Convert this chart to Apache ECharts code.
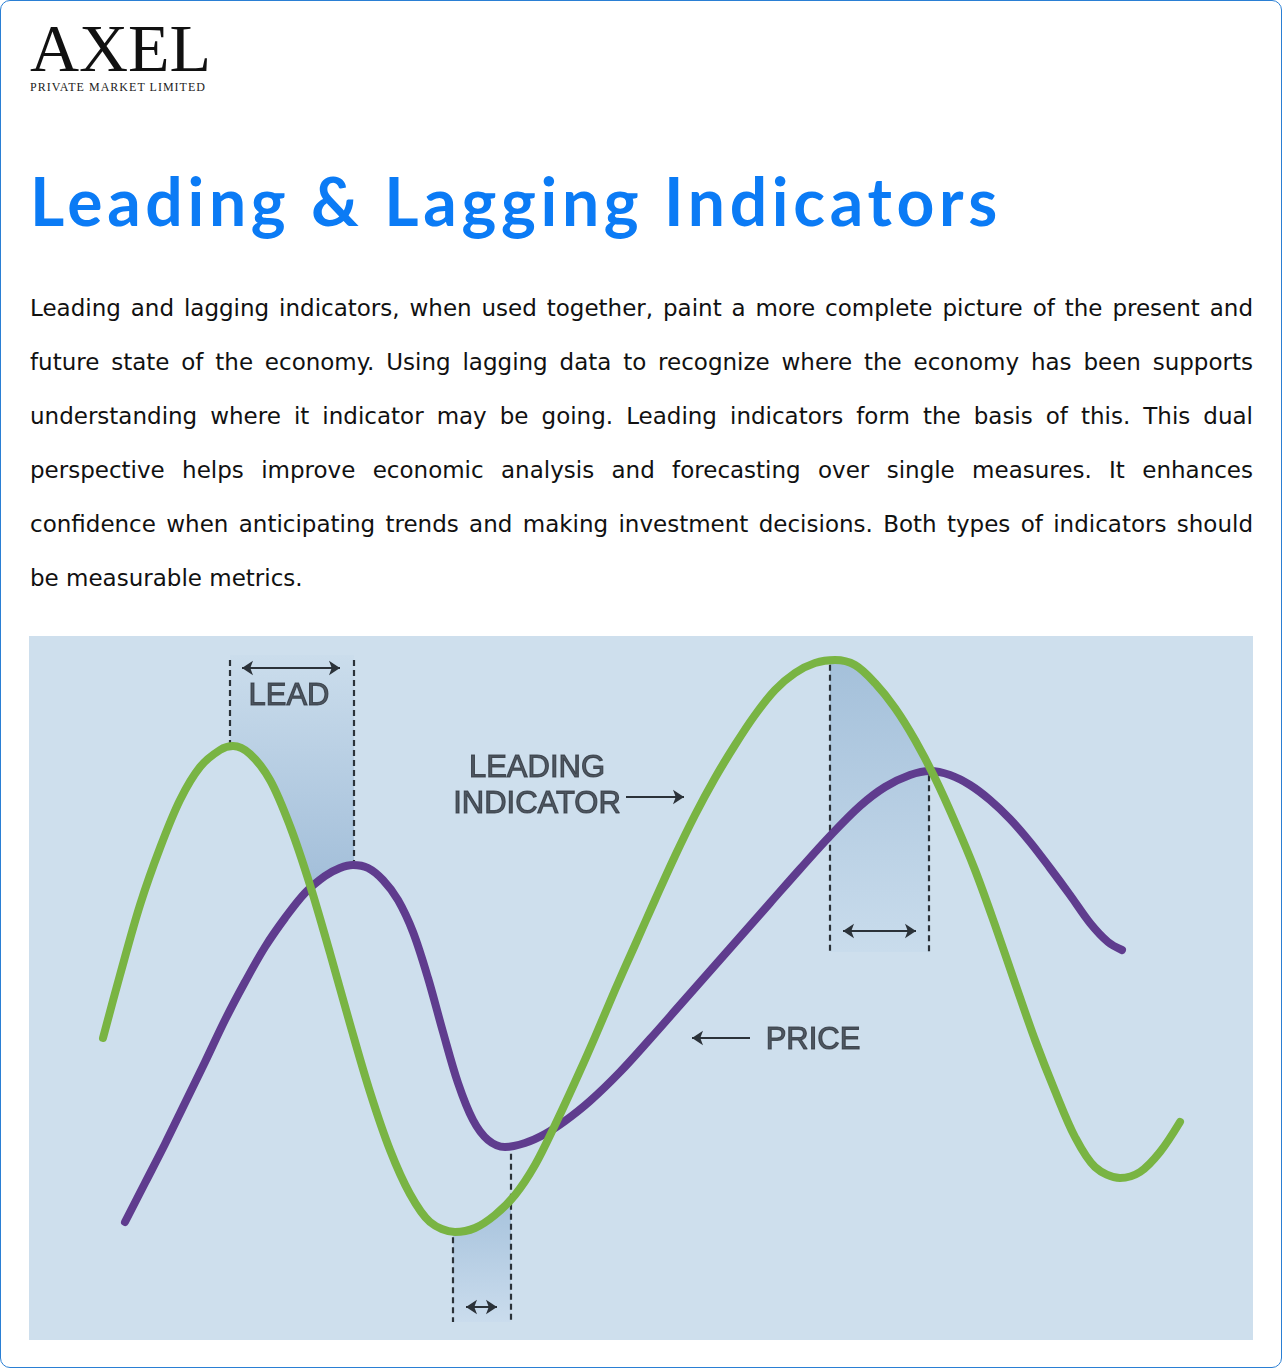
<!DOCTYPE html>
<html><head><meta charset="utf-8">
<script src="https://cdn.jsdelivr.net/npm/echarts@6/dist/echarts.min.js"></script>
<style>
html,body{margin:0;padding:0;background:#fff;}
#page{position:relative;width:1282px;height:1368px;overflow:hidden;background:#fff;}
#frame{position:absolute;left:0;top:0;width:1282px;height:1368px;box-sizing:border-box;border:1px solid #2a7fd4;border-radius:10px;pointer-events:none;}
#logo{position:absolute;left:30px;top:14px;font-family:'Liberation Serif','Times New Roman',serif;font-size:68px;line-height:68px;color:#111;white-space:nowrap;}
#sub{position:absolute;left:30px;top:81px;font-family:'Liberation Serif','Times New Roman',serif;font-size:12px;line-height:12px;color:#222;white-space:nowrap;}
#title{position:absolute;left:30px;top:161px;font-family:Lato,sans-serif;font-weight:700;font-size:66px;line-height:79px;color:#0b7bf5;white-space:nowrap;}
#para{position:absolute;left:30px;top:281px;width:1223px;font-family:'DejaVu Sans',sans-serif;font-size:20px;color:#111;}
#para div{height:54px;line-height:54px;white-space:nowrap;text-align:justify;text-align-last:justify;}
#para div.last{text-align-last:left;}
#probe{position:absolute;left:0;top:0;visibility:hidden;white-space:nowrap;font-family:'DejaVu Sans',sans-serif;font-size:20px;}
#chart{position:absolute;left:29px;top:636px;width:1224px;height:704px;}
</style>
</head><body>
<div id="page">
  <div id="logo"><span id="logoText">AXEL</span></div>
  <div id="sub"><span id="subText">PRIVATE MARKET LIMITED</span></div>
  <div id="title"><span id="titleText">Leading &amp; Lagging Indicators</span></div>
  <div id="para">
    <div>Leading and lagging indicators, when used together, paint a more complete picture of the present and</div>
    <div>future state of the economy. Using lagging data to recognize where the economy has been supports</div>
    <div>understanding where it indicator may be going. Leading indicators form the basis of this. This dual</div>
    <div>perspective helps improve economic analysis and forecasting over single measures. It enhances</div>
    <div>confidence when anticipating trends and making investment decisions. Both types of indicators should</div>
    <div class="last">be measurable metrics.</div>
  </div>
  <span id="probe"></span>
  <div id="chart"></div>
  <div id="frame"></div>
</div>
<script>
// ---- data (x = time, y = level) ----
const leadingIndicator = [
  [74,302],[91,365],[111,435],[131,492],[151,540],[171,573],[191,590],[204,594],
  [221,586],[241,560],[261,514],[281,455],[301,387],[321,316],[341,248],[361,190],
  [381,146],[401,118],[426,108],[446,112],[466,125],[486,145],[506,175],[526,215],
  [546,258],[566,303],[586,350],[606,395],[626,440],[646,484],[666,525],[686,562],
  [706,595],[726,625],[746,650],[766,667],[786,677],[806,680],[826,675],[846,657],
  [866,632],[886,600],[906,562],[926,518],[946,470],[966,415],[986,357],[1006,300],
  [1026,249],[1046,203],[1066,173],[1091,162],[1111,168],[1131,188],[1151,218]
];
const price = [
  [96,118],[116,157],[136,196],[156,237],[176,278],[196,320],[216,358],[236,393],
  [256,422],[276,447],[296,464],[311,472],[324,475],[339,472],[354,460],[369,440],
  [384,408],[399,362],[414,308],[429,257],[444,220],[459,200],[476,193],[496,197],
  [516,206],[536,219],[561,239],[591,268],[621,301],[651,335],[681,369],[711,403],
  [741,437],[771,471],[801,504],[831,534],[856,553],[881,565],[901,569],[921,565],
  [941,555],[961,540],[981,521],[1001,498],[1021,472],[1041,445],[1061,417],[1079,398],
  [1093,390]
];
// time windows
const leadWindow = [201, 325];     // leading peak -> price peak
const peakLag = [801, 900];        // second peaks
const troughLag = [424, 482];      // troughs
const labels = ['LEAD', 'LEADING', 'INDICATOR', 'PRICE'];

// ---- helpers ----
function at(series, x) {
  if (x <= series[0][0]) return series[0][1];
  for (let i = 1; i < series.length; i++) {
    if (x <= series[i][0]) {
      const a = series[i-1], b = series[i];
      return a[1] + (b[1]-a[1]) * (x - a[0]) / (b[0]-a[0]);
    }
  }
  return series[series.length-1][1];
}
const TOP = 685, BAND2_BOTTOM = 388, BAND3_BOTTOM = 18;

// fit text widths to the reference layout
function fit(id, target) {
  const el = document.getElementById(id);
  el.style.letterSpacing = '0px';
  const w = el.getBoundingClientRect().width;
  const n = el.textContent.length;
  el.style.letterSpacing = ((target - w) / n) + 'px';
}
fit('logoText', 181);
fit('subText', 176);
fit('titleText', 972);
(function(){
  const probe = document.getElementById('probe');
  const rows = Array.from(document.querySelectorAll('#para div'));
  let maxW = 0;
  rows.slice(0, 5).forEach(r => {
    probe.textContent = r.textContent;
    maxW = Math.max(maxW, probe.getBoundingClientRect().width);
  });
  let k = 1212 / maxW;
  k = Math.max(0.9, Math.min(1.15, k));
  document.getElementById('para').style.fontSize = (20 * k) + 'px';
})();

const chart = echarts.init(document.getElementById('chart'), null, {renderer: 'canvas'});
const DARK = '#2b3239';
const labelPos = [[260,644],[508,572],[508,536],[784,300]];

const option = {
  animation: false,
  backgroundColor: '#cedfed',
  grid: {left: 0, right: 0, top: 0, bottom: 0},
  xAxis: {type: 'value', min: 0, max: 1224, show: false},
  yAxis: {type: 'value', min: 0, max: 704, show: false},
  series: [
    {
      type: 'custom',
      silent: true,
      z: 1,
      data: [[0, 0]],
      renderItem: function (params, api) {
        const children = [];
        function poly(pts, c0, c1) {
          children.push({
            type: 'polygon',
            shape: {points: pts.map(p => api.coord(p))},
            style: {fill: new echarts.graphic.LinearGradient(0, 0, 0, 1, [
              {offset: 0, color: c0}, {offset: 1, color: c1}])}
          });
        }
        let p1 = [[leadWindow[0], TOP], [leadWindow[1], TOP]];
        for (let x = leadWindow[1]; x >= leadWindow[0]; x -= 1) {
          p1.push([x, Math.max(at(leadingIndicator, x), at(price, x))]);
        }
        poly(p1, '#cbddec', '#a2bed9');
        let p2 = [];
        for (let x = peakLag[0]; x <= peakLag[1]; x += 1) p2.push([x, at(leadingIndicator, x)]);
        p2.push([peakLag[1], BAND2_BOTTOM], [peakLag[0], BAND2_BOTTOM]);
        poly(p2, '#a4c0da', '#c9dcec');
        let p3 = [];
        for (let x = troughLag[0]; x <= troughLag[1]; x += 1) p3.push([x, at(leadingIndicator, x)]);
        p3.push([troughLag[1], BAND3_BOTTOM], [troughLag[0], BAND3_BOTTOM]);
        poly(p3, '#a6c2dc', '#cadced');
        return {type: 'group', children: children};
      }
    },
    {
      type: 'lines',
      coordinateSystem: 'cartesian2d',
      silent: true,
      z: 2,
      lineStyle: {color: DARK, width: 2.2, type: [6, 4], opacity: 1},
      symbol: ['none', 'none'],
      data: [
        {coords: [[leadWindow[0], TOP - 5], [leadWindow[0], at(leadingIndicator, leadWindow[0]) + 2]]},
        {coords: [[leadWindow[1], TOP - 5], [leadWindow[1], at(price, leadWindow[1]) + 4]]},
        {coords: [[peakLag[0], at(leadingIndicator, peakLag[0]) - 4], [peakLag[0], BAND2_BOTTOM]]},
        {coords: [[peakLag[1], at(price, peakLag[1]) - 4], [peakLag[1], BAND2_BOTTOM]]},
        {coords: [[troughLag[0], at(leadingIndicator, troughLag[0]) - 6], [troughLag[0], BAND3_BOTTOM]]},
        {coords: [[troughLag[1], at(price, troughLag[1]) - 8], [troughLag[1], BAND3_BOTTOM]]}
      ]
    },
    {
      name: 'Leading indicator',
      type: 'line',
      z: 4,
      data: leadingIndicator,
      smooth: 0.33,
      showSymbol: false,
      silent: true,
      lineStyle: {color: '#79b443', width: 8, cap: 'round', join: 'round'}
    },
    {
      name: 'Price',
      type: 'line',
      z: 3,
      data: price,
      smooth: 0.33,
      showSymbol: false,
      silent: true,
      lineStyle: {color: '#5f3c8e', width: 8, cap: 'round', join: 'round'}
    },
    {
      type: 'lines',
      coordinateSystem: 'cartesian2d',
      silent: true,
      z: 5,
      lineStyle: {color: DARK, width: 2, opacity: 1},
      symbol: ['arrow', 'arrow'],
      symbolSize: 11,
      data: [
        {coords: [[leadWindow[0] + 12, TOP - 13], [leadWindow[1] - 14, TOP - 13]]},
        {coords: [[peakLag[0] + 13, BAND2_BOTTOM + 21], [peakLag[1] - 13, BAND2_BOTTOM + 21]]},
        {coords: [[troughLag[0] + 13, BAND3_BOTTOM + 15], [troughLag[1] - 14, BAND3_BOTTOM + 15]]}
      ]
    },
    {
      type: 'lines',
      coordinateSystem: 'cartesian2d',
      silent: true,
      z: 5,
      lineStyle: {color: DARK, width: 2, opacity: 1},
      symbol: ['none', 'arrow'],
      symbolSize: 11,
      data: [
        {coords: [[597, 543], [655, 543]]},
        {coords: [[721, 302], [663, 302]]}
      ]
    },
    {
      type: 'scatter',
      silent: true,
      z: 6,
      symbolSize: 1,
      itemStyle: {color: 'rgba(0,0,0,0)'},
      data: labels.map((t, i) => ({name: t, value: labelPos[i]})),
      label: {
        show: true,
        position: 'inside',
        formatter: '{b}',
        fontFamily: 'Liberation Sans, Arial, sans-serif',
        fontSize: 31,
        color: '#30363e',
        textBorderColor: '#30363e',
        textBorderWidth: 1.1
      }
    }
  ]
};
chart.setOption(option);
</script>
</body></html>
